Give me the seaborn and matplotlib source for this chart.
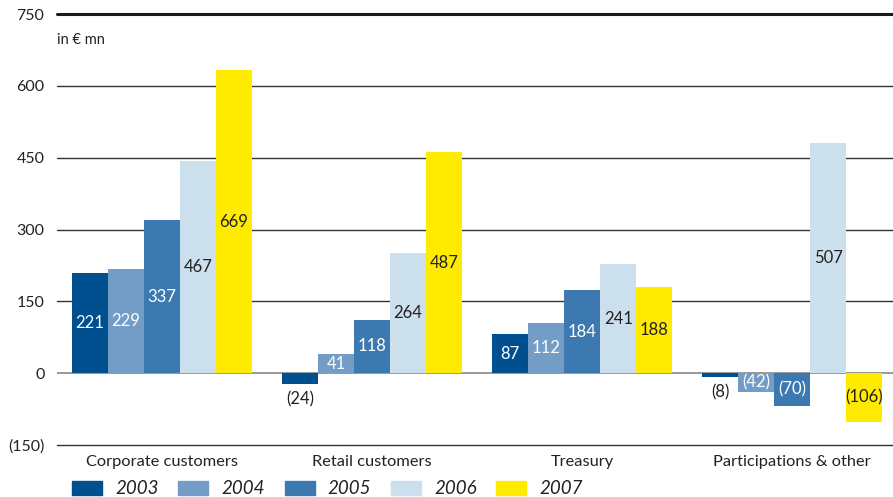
import matplotlib
matplotlib.use("Agg")
import matplotlib.pyplot as plt
import matplotlib.patches as mpatches
import seaborn as sns
import pandas as pd

# ---- data ----
categories = ["Corporate customers", "Retail customers", "Treasury", "Participations & other"]
years = ["2003", "2004", "2005", "2006", "2007"]
# bar heights as drawn in the reference (€ mn)
heights = {
    "2003": [209, -23, 82, -9],
    "2004": [217, 39, 105, -40],
    "2005": [319, 112, 174, -68],
    "2006": [442, 250, 228, 480],
    "2007": [633, 461, 179, -101],
}
# printed value labels
labels = {
    "2003": ["221", "(24)", "87", "(8)"],
    "2004": ["229", "41", "112", "(42)"],
    "2005": ["337", "118", "184", "(70)"],
    "2006": ["467", "264", "241", "507"],
    "2007": ["669", "487", "188", "(106)"],
}
yticks = [-150, 0, 150, 300, 450, 600, 750]
ytick_labels = ["(150)", "0", "150", "300", "450", "600", "750"]
colors = ["#004F8F", "#739DC7", "#3B79B0", "#CCDFEC", "#FFEB00"]
label_colors = ["white", "white", "white", "#222222", "#222222"]

rows = []
for y in years:
    for c, h in zip(categories, heights[y]):
        rows.append({"category": c, "year": y, "value": h})
df = pd.DataFrame(rows)

sns.set_theme(style="white")
plt.rcParams["font.family"] = ["Lato", "DejaVu Sans"]
text_col = "#222222"

fig = plt.figure(figsize=(8.93, 4.97), dpi=100)
ax = fig.add_axes([57 / 893, 52 / 497, 1 - 57 / 893, (445 - 14) / 497])

sns.barplot(data=df, x="category", y="value", hue="year", order=categories,
            hue_order=years, palette=colors, width=180 / 210, saturation=1,
            linewidth=0, ax=ax, legend=False, zorder=2)

ax.set_xlim(-0.5, 3.48)
ax.set_ylim(-150, 750)
for s in ax.spines.values():
    s.set_visible(False)

# gridlines
for t in yticks:
    if t == 750:
        ax.axhline(t, color="#1a1a1a", lw=2.2, zorder=1, clip_on=False)
    elif t == 0:
        ax.axhline(t, color="#999999", lw=1.4, zorder=1)
    else:
        ax.axhline(t, color="#333333", lw=1.0, zorder=1, clip_on=False)

ax.set_yticks(yticks)
ax.set_yticklabels(ytick_labels)
ax.tick_params(axis="y", length=0, pad=9, labelsize=11.5, labelcolor=text_col)
ax.tick_params(axis="x", length=0, pad=7, labelsize=11.8, labelcolor=text_col)
ax.set_xlabel("")
ax.set_ylabel("")

# value labels
for yi, (cont, y) in enumerate(zip(ax.containers, years)):
    for bar, lab in zip(cont, labels[y]):
        h = bar.get_height()
        x = bar.get_x() + bar.get_width() / 2
        if abs(h) < 30:
            ax.annotate(lab, (x, h), xytext=(0, -5), textcoords="offset points",
                        ha="center", va="top", fontsize=12, color=text_col, zorder=3)
        else:
            ax.text(x, h / 2, lab, ha="center", va="center", fontsize=12,
                    color=label_colors[yi], zorder=3)

fig.text(57 / 893, 1 - 40 / 497, "in € mn", ha="left", va="center", fontsize=10.5, color=text_col)

handles = [mpatches.Patch(color=c, label=y) for c, y in zip(colors, years)]
fig.legend(handles=handles, loc="center left", bbox_to_anchor=(72 / 893, 8 / 497),
           ncol=5, frameon=False, handlelength=1.6, handleheight=0.75,
           handletextpad=0.7, columnspacing=1.05, borderpad=0, borderaxespad=0,
           prop={"style": "italic", "size": 13.5})
for t in fig.legends[0].get_texts():
    t.set_color(text_col)

fig.savefig("out.png", dpi=100)
